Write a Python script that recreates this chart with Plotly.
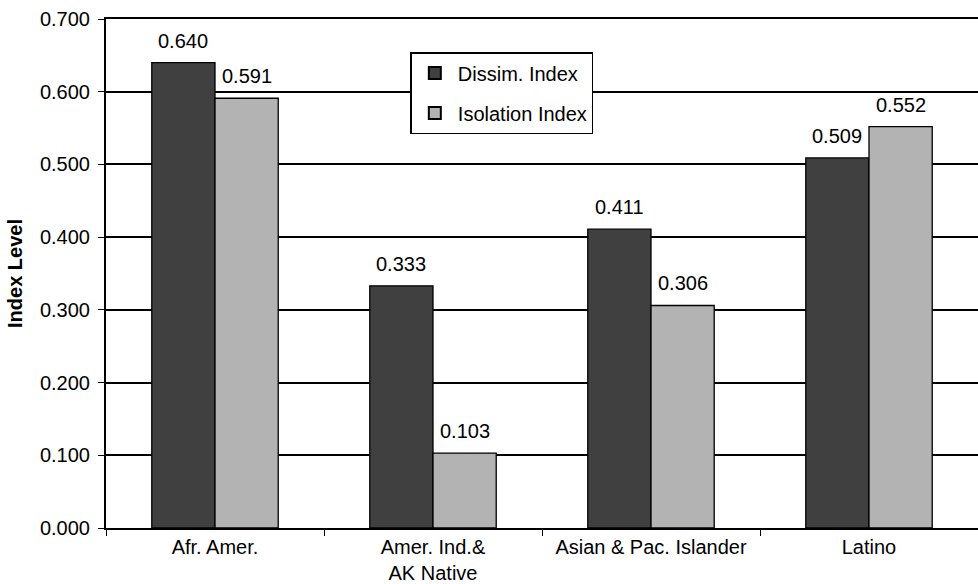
import plotly.graph_objects as go

# Segregation indices by group
categories = ["Afr. Amer.", "Amer. Ind.&<br>AK Native", "Asian & Pac. Islander", "Latino"]
dissim_index = [0.640, 0.333, 0.411, 0.509]
isolation_index = [0.591, 0.103, 0.306, 0.552]
y_ticks = [0.0, 0.1, 0.2, 0.3, 0.4, 0.5, 0.6, 0.7]

series = [
    ("Dissim. Index", dissim_index, "#404040", -32),
    ("Isolation Index", isolation_index, "#b3b3b3", 32),
]

font_family = "Liberation Sans, Arial, Helvetica, sans-serif"

fig = go.Figure()

for name, vals, col, dx in series:
    fig.add_trace(go.Bar(
        x=categories, y=vals, name=name, showlegend=False,
        marker=dict(color=col, line=dict(color="#000000", width=1.3)),
    ))
    # value labels sit a bit above the bar tops
    for cat, v in zip(categories, vals):
        fig.add_annotation(
            x=cat, y=v, text=f"{v:.3f}", showarrow=False,
            xshift=dx, yshift=9, yanchor="bottom",
            font=dict(size=20, color="#000000"),
        )

# legend-only entries with larger square swatches
for i, (name, vals, col, dx) in enumerate(series):
    fig.add_trace(go.Scatter(
        x=[None], y=[None], mode="markers", name=name, legendgroup=f"g{i}",
        marker=dict(symbol="square", size=19, color=col, line=dict(color="#000000", width=1.3)),
    ))

fig.update_layout(
    width=978, height=584,
    margin=dict(l=106, r=0, t=19, b=56),
    paper_bgcolor="white", plot_bgcolor="white",
    font=dict(family=font_family, size=20, color="#000000"),
    barmode="group", bargap=0.42, bargroupgap=0,
    showlegend=True,
    legend=dict(
        x=0.349, y=0.935, xanchor="left", yanchor="top",
        bgcolor="white", bordercolor="#000000", borderwidth=1.5,
        font=dict(size=20), itemsizing="constant", itemwidth=36,
        tracegroupgap=11,
    ),
)

fig.update_xaxes(
    showline=True, mirror=True, linecolor="#000000", linewidth=2,
    ticks="outside", tickson="boundaries", ticklen=6, tickcolor="#000000",
    tickfont=dict(size=20), showgrid=False,
)
fig.update_yaxes(
    range=[0, 0.7], tickvals=y_ticks, tickformat=".3f",
    showline=True, linecolor="#000000", linewidth=2,
    ticks="outside", ticklen=6, tickcolor="#000000", ticklabelstandoff=4,
    showgrid=True, gridcolor="#000000", gridwidth=2,
    zeroline=False, tickfont=dict(size=20),
    title=dict(text="<b>Index Level</b>", font=dict(size=20), standoff=12),
)

fig.write_html("out.html", config={"displayModeBar": False},
               post_script="document.body.style.margin='0';")
